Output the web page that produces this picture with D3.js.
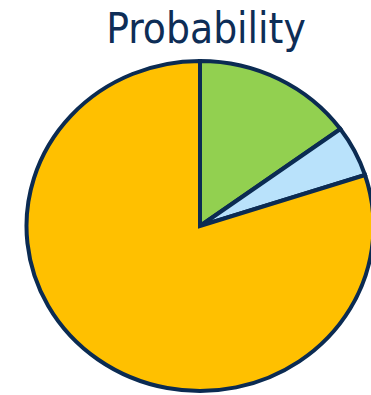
<!DOCTYPE html>
<html>
<head>
<meta charset="utf-8">
<script src="https://cdn.jsdelivr.net/npm/d3@7"></script>
<style>
  body { margin: 0; background: #fff; }
  svg { display: block; }
</style>
</head>
<body>
<svg id="chart" width="371" height="395"></svg>
<script>
const categories = ['A', 'B', 'C'];
const values = [0.15, 0.05, 0.80];
const colors = ['#92D050', '#B9E2FB', '#FFC000'];
const title = 'Probability';

const svg = d3.select('#chart');
const cx = 200, cy = 226;
const rx = 173.5, ry = 165;

svg.append('text')
  .attr('x', 206)
  .attr('y', 43)
  .attr('text-anchor', 'middle')
  .style('font-family', '"DejaVu Sans Condensed", "DejaVu Sans", sans-serif')
  .style('font-size', '42px')
  .style('fill', '#0E2D56')
  .text(title);

const pie = d3.pie().sort(null).value(d => d);
const arc = d3.arc().innerRadius(0).outerRadius(ry);
const color = d3.scaleOrdinal().domain(categories).range(colors);

const g = svg.append('g')
  .attr('transform', 'translate(' + cx + ',' + cy + ') scale(' + (rx / ry) + ',1)');

g.selectAll('path')
  .data(pie(values))
  .enter().append('path')
  .attr('d', arc)
  .attr('fill', (d, i) => color(categories[i]))
  .attr('stroke', '#0B2B52')
  .attr('stroke-width', 4)
  .attr('stroke-linejoin', 'miter')
  .attr('vector-effect', 'non-scaling-stroke');
</script>
</body>
</html>
